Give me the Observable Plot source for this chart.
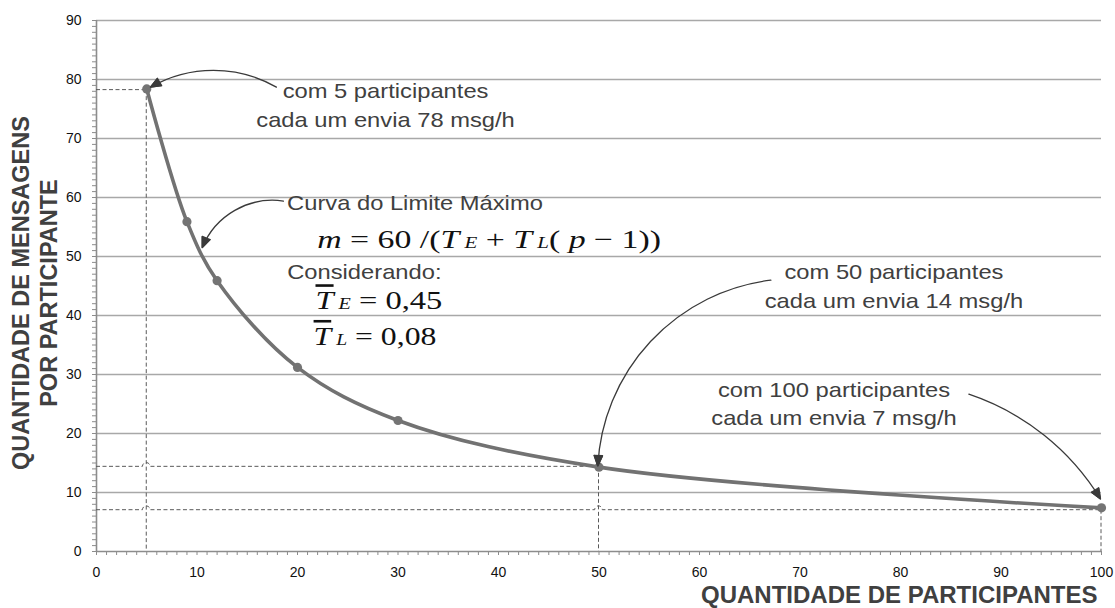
<!DOCTYPE html>
<html><head><meta charset="utf-8">
<script src="https://cdn.jsdelivr.net/npm/d3@7"></script>
<script src="https://cdn.jsdelivr.net/npm/@observablehq/plot@0.6"></script>
<style>body{margin:0;background:#fff;}</style>
</head><body>
<div id="chart"></div>
<script>
// ---- data ----
const participants = [5, 9, 12, 20, 30, 50, 100];
const messages = [78.4, 55.9, 45.9, 31.2, 22.2, 14.3, 7.4];
const guideX = [5, 50, 100];
const guideY = [78.2, 14.35, 7.0];
const xMajor = [0, 10, 20, 30, 40, 50, 60, 70, 80, 90, 100];
const yMajor = [0, 10, 20, 30, 40, 50, 60, 70, 80, 90];
const yGrid = [10, 20, 30, 40, 50, 60, 70, 80, 90];

const noteText = ["com 5 participantes", "cada um envia 78 msg/h",
                  "com 50 participantes", "cada um envia 14 msg/h",
                  "com 100 participantes", "cada um envia 7 msg/h"];
const noteX = [28.76, 28.76, 79.35, 79.35, 73.38, 73.38];
const noteY = [76.9, 72.0, 46.14, 41.33, 26.25, 21.46];

const curveText = ["Curva do Limite Máximo", "Considerando:"];
const curveX = [18.96, 18.97];
const curveY = [57.82, 46.14];

const mathParts = [
  [["m", "i"], [" = 60 /(", ""], ["T", "i"], [" E", "s"], [" + ", ""], ["T", "i"], [" L", "s"], ["( ", ""], ["p", "i"], [" − 1))", ""]],
  [["T", "ib"], [" E", "s"], [" = 0,45", ""]],
  [["T", "ib"], [" L", "s"], [" = 0,08", ""]]
];
const mathX = [21.96, 21.79, 21.6];
const mathY = [51.44, 41.06, 35.01];
const mathSize = [26, 26, 26];
const mathStretch = [1.3, 1.25, 1.22];

const arrowX1 = [17.9, 18.6, 67.1, 86.8];
const arrowY1 = [78.7, 59.4, 46.0, 26.66];
const arrowX2 = [5.37, 10.52, 49.88, 99.9];
const arrowY2 = [78.7, 51.5, 14.5, 8.9];
const arrowBend = [-30, -38, -40, 20];

const xTitle = "QUANTIDADE DE PARTICIPANTES";
const yTitle = "QUANTIDADE DE MENSAGENS\nPOR PARTICIPANTE";

// ---- tables ----
const pts = participants.map((p, i) => ({p, m: messages[i]}));
const notes = noteText.map((t, i) => ({t, x: noteX[i], y: noteY[i]}));
const curveNotes = curveText.map((t, i) => ({t, x: curveX[i], y: curveY[i]}));
const maths = mathParts.map((parts, i) => ({t: parts.map(d => d[0]).join(""), x: mathX[i], y: mathY[i], s: mathSize[i]}));
const arrows = arrowX1.map((x1, i) => ({x1, y1: arrowY1[i], x2: arrowX2[i], y2: arrowY2[i], bend: arrowBend[i]}));

const GRAY = "#404040";
const plot = Plot.plot({
  width: 1115, height: 608,
  marginLeft: 96, marginRight: 14, marginTop: 20, marginBottom: 57,
  style: {background: "#fff", fontFamily: "Liberation Sans, Arial, sans-serif", fontSize: "14px", color: "#111"},
  x: {domain: [0, 100], ticks: d3.range(0, 101, 1), tickFormat: d => xMajor.includes(d) ? String(d) : "", tickSize: 4, tickPadding: 12, label: null},
  y: {domain: [0, 90], ticks: d3.range(0, 91, 1), tickFormat: d => yMajor.includes(d) ? String(d) : "", tickSize: 4, tickPadding: 11, label: null},
  marks: [
    Plot.ruleY(yGrid, {stroke: "#a8a8a8", strokeWidth: 1.6}),
    Plot.ruleY([0], {stroke: "#8c8c8c", strokeWidth: 1.6}),
    Plot.ruleX([0], {y1: 0, y2: 90, stroke: "#8c8c8c", strokeWidth: 1.6}),
    Plot.line(pts, {x: "p", y: "m", curve: "catmull-rom", stroke: "#727272", strokeWidth: 3.6}),
    Plot.dot(pts, {x: "p", y: "m", r: 4.6, fill: "#747474"}),
    ...arrows.map(a => Plot.arrow([a], {x1: "x1", y1: "y1", x2: "x2", y2: "y2", bend: a.bend, stroke: "#3a3a3a", strokeWidth: 1.3, headLength: 13, headAngle: 44})),
    Plot.text(notes, {x: "x", y: "y", text: "t", textAnchor: "middle", lineAnchor: "bottom", fontSize: 21, fill: GRAY}),
    Plot.text(curveNotes, {x: "x", y: "y", text: "t", textAnchor: "start", lineAnchor: "bottom", fontSize: 21, fill: GRAY}),
    Plot.text(maths, {x: "x", y: "y", text: "t", textAnchor: "start", lineAnchor: "bottom", fontSize: "s", fontFamily: "Liberation Serif, Times New Roman, serif", fill: "#111"}),
    Plot.text([xTitle], {text: d => d, frameAnchor: "bottom-right", textAnchor: "end", lineAnchor: "bottom", dx: -4, dy: 51, fontSize: 24, fontWeight: "bold", fill: GRAY}),
    Plot.text([yTitle], {text: d => d, frameAnchor: "left", rotate: -90, textAnchor: "middle", lineAnchor: "bottom", lineHeight: 1.17, dx: -40, dy: 7, fontSize: 23.5, fontWeight: "bold", fill: GRAY})
  ]
});
document.getElementById("chart").append(plot);

const ns = "http://www.w3.org/2000/svg";
// axis tick colour
plot.querySelectorAll('g[aria-label="x-axis tick"], g[aria-label="y-axis tick"]').forEach(g => g.setAttribute("stroke", "#8c8c8c"));
plot.querySelectorAll('g[aria-label="x-axis"] .tick line, g[aria-label="y-axis"] .tick line').forEach(l => l.setAttribute("stroke", "#8c8c8c"));
plot.querySelectorAll('g[aria-label="x-axis"] .domain, g[aria-label="y-axis"] .domain').forEach(l => l.remove());

// scales
const X = plot.scale("x"), Y = plot.scale("y");
const fx = X.apply ? v => X.apply(v) : d3.scaleLinear(X.domain, X.range);
const fy = Y.apply ? v => Y.apply(v) : d3.scaleLinear(Y.domain, Y.range);

// dashed guide lines with hops
const lineG = plot.querySelector('g[aria-label="line"]');
const gg = document.createElementNS(ns, "g");
plot.insertBefore(gg, lineG);
const gsel = d3.select(gg).attr("fill", "none").attr("stroke", "#5a5a5a").attr("stroke-width", 1).attr("stroke-dasharray", "4,2.5");
const hop = 3.8;
guideX.forEach((gx, i) => {
  const gy = guideY[i], yy = fy(gy), x1 = fx(gx);
  const p = d3.path();
  p.moveTo(fx(0), yy);
  guideX.forEach((hx, j) => {
    if (hx < gx && guideY[j] > gy) { const cx = fx(hx); p.lineTo(cx - hop, yy); p.arc(cx, yy, hop, Math.PI, 0, false); }
  });
  p.lineTo(x1, yy);
  p.moveTo(x1, yy);
  p.lineTo(x1, fy(0));
  gsel.append("path").attr("d", p.toString());
});

// filled arrow heads
plot.querySelectorAll('g[aria-label="arrow"] path').forEach(path => {
  const d = path.getAttribute("d");
  const k = d.indexOf("M", 1);
  if (k > 0) {
    const h = document.createElementNS(ns, "path");
    h.setAttribute("d", d.slice(k) + "Z");
    h.setAttribute("fill", "#3a3a3a");
    h.setAttribute("stroke", "#3a3a3a");
    path.parentNode.append(h);
  }
});

// text mark groups in mark order: notes, curve notes, math, x title, y title
const textGroups = plot.querySelectorAll('g[aria-label="text"]');
const noteGroups = [textGroups[0], textGroups[1]];
const mathGroup = textGroups[2];

// rich math text
mathGroup.querySelectorAll("text").forEach((t, i) => {
  t.textContent = "";
  for (const [s, k] of mathParts[i]) {
    const ts = document.createElementNS(ns, "tspan");
    ts.textContent = s;
    if (k.includes("i") || k === "s") ts.setAttribute("font-style", "italic");
    if (k === "s") ts.setAttribute("font-size", "0.62em");
    if (k.includes("b")) ts.setAttribute("text-decoration", "overline");
    t.append(ts);
  }
});

// horizontal stretch of annotation text (reference glyphs are wider)
function stretchText(t, f) {
  const L = t.getComputedTextLength();
  t.setAttribute("textLength", (L * f).toFixed(1));
  t.setAttribute("lengthAdjust", "spacingAndGlyphs");
}
noteGroups.forEach(g => g.querySelectorAll("text").forEach(t => stretchText(t, 1.13)));
mathGroup.querySelectorAll("text").forEach((t, i) => stretchText(t, mathStretch[i]));
</script>
</body></html>
